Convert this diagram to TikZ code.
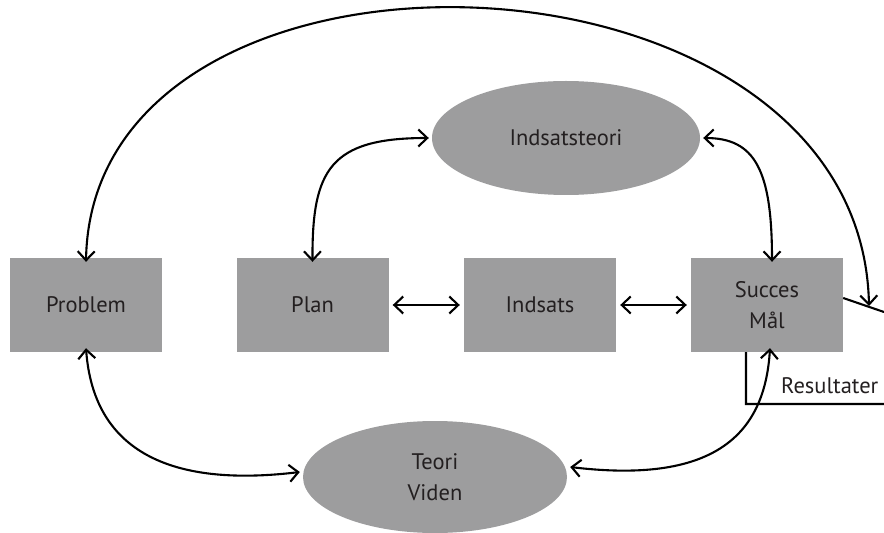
\documentclass[tikz,border=0pt]{standalone}
\usepackage{fontspec}
\setmainfont{PT Sans}
\usetikzlibrary{arrows.meta,shapes.geometric}
\definecolor{boxgray}{HTML}{9D9D9E}
\definecolor{txt}{HTML}{231F20}
\begin{document}
\begin{tikzpicture}[x=1bp,y=-1bp,
  font=\fontsize{22.5bp}{31bp}\selectfont,
  box/.style={rectangle,fill=boxgray,minimum width=152bp,minimum height=94bp,inner sep=0pt,text=txt,align=center},
  oval/.style={ellipse,fill=boxgray,inner sep=0pt,text=txt,align=center},
  conn/.style={line width=2.1bp,draw=black}]
\useasboundingbox (0,0) rectangle (884,533);
\tikzset{tip/.tip={Straight Barb[length=9bp,width=17bp]}}
\node[box] (prob) at (86,305) {Problem};
\node[box] (plan) at (312.5,305) {Plan};
\node[box] (inds) at (540,305) {Indsats};
\node[box] (succ) at (767,305) {Succes\\Mål};
\node[oval,minimum width=268bp,minimum height=114bp] (insteori) at (566,138) {Indsatsteori};
\node[oval,minimum width=264bp,minimum height=112bp] (teori) at (435,477) {Teori\\Viden};
\coordinate (bigend) at (869,306);
\coordinate (rightend) at (884,312);
\coordinate (rescorner) at (746,404);
\coordinate (resend) at (884,404);
\node[text=txt,anchor=west,inner sep=0pt] (res) at (781,386) {Resultater};
% connectors
\draw[conn,{tip}-{tip}] ([yshift=-4bp]prob.north) .. controls (92,-95) and (861,-72) .. (bigend);
\draw[conn,{tip}-{tip}] ([yshift=-4bp]plan.north) .. controls (312,170) and (330,138) .. ([xshift=-3bp]insteori.west);
\draw[conn,{tip}-{tip}] ([xshift=5bp,yshift=-4bp]succ.north) .. controls (772,170) and (755,138) .. ([xshift=3bp]insteori.east);
\draw[conn,{tip}-{tip}] ([yshift=4bp]prob.south) .. controls (95,470) and (200,484) .. ([xshift=-3bp,yshift=5bp]teori.west);
\draw[conn,{tip}-{tip}] ([xshift=3bp,yshift=10bp]teori.east) .. controls (720,485) and (765,430) .. ([xshift=3bp,yshift=4bp]succ.south);
\draw[conn,{tip}-{tip},shorten <=4bp,shorten >=4bp] (plan.east) -- (inds.west);
\draw[conn,{tip}-{tip},shorten <=4bp,shorten >=4bp] (inds.east) -- (succ.west);
\draw[conn] ([yshift=7bp]succ.east) -- (rightend);
\draw[conn] ([xshift=-21bp]succ.south) -- (rescorner) -- (resend);
\end{tikzpicture}
\end{document}
